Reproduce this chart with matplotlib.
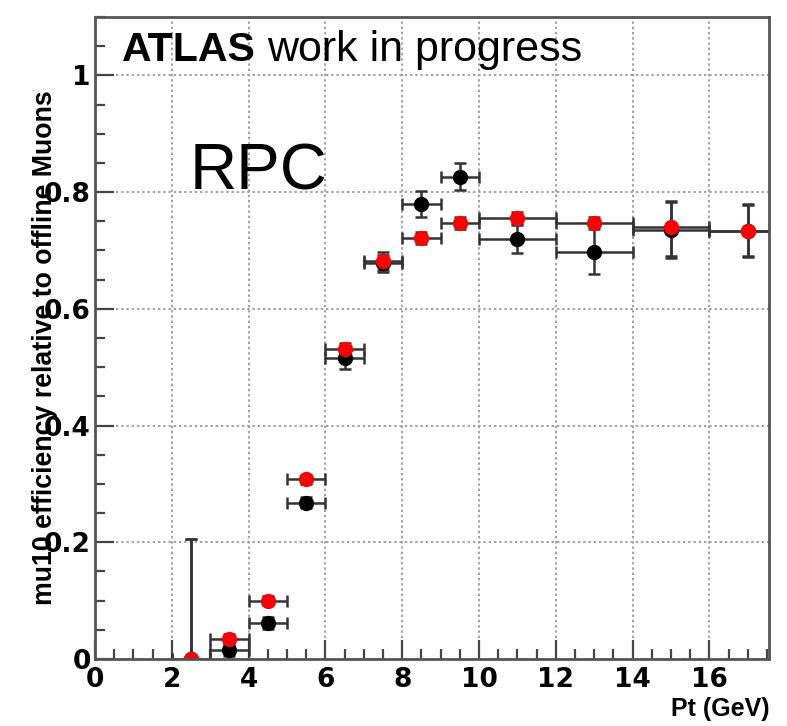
import matplotlib
matplotlib.use("Agg")
import matplotlib.pyplot as plt
from matplotlib.ticker import MultipleLocator, FuncFormatter

# bin centres and half widths (GeV)
pt = [2.5, 3.5, 4.5, 5.5, 6.5, 7.5, 8.5, 9.5, 11, 13, 15, 17]
pt_halfwidth = [0.5, 0.5, 0.5, 0.5, 0.5, 0.5, 0.5, 0.5, 1, 1, 1, 1]

eff_black = [0.0, 0.015, 0.062, 0.268, 0.516, 0.678, 0.780, 0.826, 0.720, 0.697, 0.735, 0.733]
err_black_lo = [0.0, 0.010, 0.010, 0.010, 0.019, 0.015, 0.022, 0.023, 0.024, 0.038, 0.048, 0.045]
err_black_hi = [0.205, 0.010, 0.010, 0.010, 0.019, 0.015, 0.022, 0.023, 0.024, 0.050, 0.048, 0.045]

eff_red = [0.0, 0.034, 0.100, 0.308, 0.532, 0.682, 0.721, 0.747, 0.756, 0.747, 0.740, 0.733]
err_red_lo = [0.0, 0.008, 0.008, 0.008, 0.010, 0.015, 0.010, 0.010, 0.010, 0.010, 0.050, 0.043]
err_red_hi = [0.205, 0.008, 0.008, 0.008, 0.010, 0.015, 0.010, 0.010, 0.010, 0.010, 0.045, 0.047]

W, H = 787, 726
fig = plt.figure(figsize=(W / 100, H / 100), dpi=100)
ax = fig.add_axes([95 / W, (H - 659) / H, (769 - 95) / W, (659 - 17) / H])

plt.rcParams['font.family'] = ['Liberation Sans', 'DejaVu Sans']

ebar = dict(fmt='o', ms=10, ecolor='#333333', elinewidth=1.8, capsize=4, capthick=1.8, zorder=3)
ax.errorbar(pt, eff_black, xerr=pt_halfwidth, yerr=[err_black_lo, err_black_hi],
            color='black', mec='black', **ebar)
ax.errorbar(pt, eff_red, xerr=pt_halfwidth, yerr=[err_red_lo, err_red_hi],
            color='#ff0000', mec='#ff0000', **ebar)

ax.set_xlim(0, 17.55)
ax.set_ylim(0, 1.1)
ax.xaxis.set_major_locator(MultipleLocator(2))
ax.xaxis.set_minor_locator(MultipleLocator(0.5))
ax.yaxis.set_major_locator(MultipleLocator(0.2))
ax.yaxis.set_minor_locator(MultipleLocator(0.05))
ax.yaxis.set_major_formatter(FuncFormatter(lambda v, p: '%g' % round(v, 2)))
ax.xaxis.set_major_formatter(FuncFormatter(lambda v, p: '%g' % v))

ax.grid(True, which='major', linestyle=(0, (1.2, 1.5)), color='#a0a0a0', linewidth=1.4)
ax.set_axisbelow(True)
ax.tick_params(which='both', direction='in', top=False, right=False, color='#444444', width=1.6)
ax.tick_params(which='major', length=14, labelsize=19)
ax.tick_params(axis='x', which='major', pad=6)
ax.tick_params(axis='y', which='major', pad=3)
ax.tick_params(which='minor', length=7)
for lab in ax.get_xticklabels() + ax.get_yticklabels():
    lab.set_fontweight('bold')
for s in ax.spines.values():
    s.set_color('#555555')
    s.set_linewidth(2)
    s.set_zorder(5)

fig.text(45 / W, 1 - 348 / H, 'mu10 efficiency relative to offline Muons', rotation=90,
         ha='center', va='center', fontsize=19.3, fontweight='bold')
fig.text(770 / W, 1 - 721 / H, 'Pt (GeV)', ha='right', va='bottom', fontsize=18, fontweight='bold')

fig.text(122 / W, 1 - 61 / H, 'ATLAS', ha='left', va='baseline', fontsize=29.5, fontweight='bold')
fig.text(267 / W, 1 - 61 / H, 'work in progress', ha='left', va='baseline', fontsize=31)
fig.text(190 / W, 1 - 190 / H, 'RPC', ha='left', va='baseline', fontsize=47)

fig.savefig('out.png', dpi=100)
